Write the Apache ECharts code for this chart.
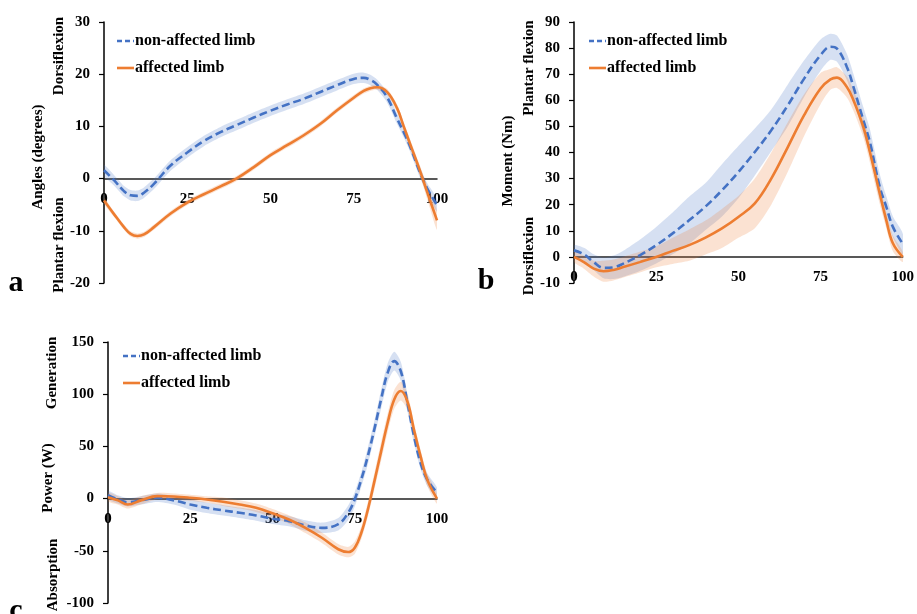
<!DOCTYPE html>
<html>
<head>
<meta charset="utf-8">
<script src="https://cdn.jsdelivr.net/npm/echarts@6/dist/echarts.min.js"></script>
<style>
html,body{margin:0;padding:0;background:#fff;}
#chart{width:917px;height:614px;}
</style>
</head>
<body>
<div id="chart"></div>
<script>
// ---------- Data ----------
const seriesNames = ['non-affected limb', 'affected limb'];

// Panel a: ankle angle (degrees) vs % gait cycle
const pctA = [0, 3, 6, 8, 10, 12, 15, 20, 25, 30, 35, 40, 45, 50, 55, 60, 65, 70, 75, 78, 80, 82, 85, 88, 90, 92, 95, 97, 100];
const angleNonAff = [1.6, -0.3, -2.4, -3.2, -3.3, -2.7, -1.0, 2.5, 5.0, 7.2, 8.9, 10.3, 11.7, 13.0, 14.2, 15.3, 16.6, 17.9, 19.1, 19.3, 18.9, 18.0, 15.6, 11.5, 8.9, 6.0, 1.0, -1.8, -5.1];
const angleAff = [-4.2, -6.8, -9.3, -10.6, -11.0, -10.7, -9.3, -6.7, -4.6, -3.0, -1.5, 0.1, 2.2, 4.5, 6.4, 8.3, 10.5, 13.1, 15.5, 16.8, 17.3, 17.5, 16.6, 13.5, 10.0, 6.5, 1.3, -2.5, -8.0];
const angleNonAffSD = [1.0, 1.0, 1.0, 1.0, 1.0, 1.0, 1.0, 1.0, 1.0, 1.0, 1.0, 1.0, 1.0, 1.0, 1.0, 1.0, 1.0, 1.0, 1.0, 1.0, 1.0, 1.0, 1.0, 1.0, 1.0, 1.0, 1.0, 1.0, 1.2];
const angleAffSD = [0.6, 0.5, 0.5, 0.5, 0.5, 0.5, 0.5, 0.5, 0.5, 0.5, 0.5, 0.5, 0.5, 0.5, 0.5, 0.5, 0.5, 0.5, 0.5, 0.5, 0.5, 0.5, 0.6, 0.7, 0.8, 0.9, 1.0, 1.3, 1.8];

// Panel b: ankle moment (Nm)
const pctB = [0, 3, 6, 9, 12, 15, 20, 25, 30, 35, 40, 45, 50, 55, 60, 65, 70, 75, 78, 80, 83, 85, 88, 90, 93, 95, 97, 100];
const momentNonAff = [2.5, 1.0, -2.0, -4.2, -4.0, -2.6, 0.6, 4.5, 9.0, 14.0, 19.3, 25.5, 32.5, 40.2, 48.5, 58.0, 68.3, 77.3, 80.5, 79.8, 72.8, 65.1, 52.4, 44.0, 26.8, 19.2, 11.5, 5.0];
const momentAff = [0, -2.0, -4.5, -5.5, -5.0, -3.9, -2.0, 0, 2.3, 4.5, 7.4, 10.9, 15.3, 20.5, 30.0, 42.0, 54.3, 64.5, 68.0, 68.7, 65.1, 60.0, 49.8, 40.2, 24.3, 14.0, 5.2, 0];
const momentNonAffSD = [2, 2.5, 3, 4, 4.5, 5, 6, 7, 8, 9, 9, 10, 10, 9, 8, 8, 7, 6, 5, 5, 5, 5, 5, 5, 5, 4, 4, 4];
const momentAffSD = [2, 2.5, 3, 4, 4, 4, 4, 4, 5, 6, 6.5, 7.5, 8, 9.5, 10, 9.5, 8, 6, 4, 4, 4, 4, 4, 4, 4, 3, 3, 2];

// Panel c: ankle power (W)
const pctC = [0, 3, 6, 10, 15, 20, 25, 30, 35, 40, 45, 50, 55, 60, 65, 70, 73, 75, 77, 79, 81, 83, 85, 87, 89, 91, 93, 95, 97, 100];
const powerNonAff = [3.3, -0.8, -3.5, -1.7, 0.8, -1.7, -5.6, -8.8, -11.3, -13.6, -16.1, -19.3, -21.6, -25.7, -28.0, -24.5, -13.6, -0.6, 18.4, 41.0, 67.0, 95.0, 120.5, 131.7, 122.0, 92.0, 59.9, 34.3, 18.4, 5.7];
const powerAff = [1.4, -1.7, -5.6, -1.7, 2.4, 2.0, 0.8, -0.8, -3.0, -5.6, -8.8, -14.0, -20.0, -28.0, -37.5, -48.5, -51.2, -47.0, -32.7, -10.3, 17.0, 45.0, 72.6, 95.0, 103.0, 93.0, 66.0, 40.7, 18.4, 0];
const powerNonAffSD = [4, 4, 4, 4, 4, 4, 5, 5, 5, 5, 5, 5, 5, 5, 5, 6, 7, 7, 7, 8, 8, 9, 9, 9, 9, 8, 7, 6, 6, 5];
const powerAffSD = [4, 4, 4, 4, 3, 3, 3, 3, 4, 4, 4, 4, 4, 5, 5, 5, 5, 6, 6, 7, 8, 9, 9, 9, 9, 8, 7, 6, 6, 5];

// Axis ranges [min, max, interval]
const xRange = [0, 100, 25];
const yRangeA = [-20, 30, 10];
const yRangeB = [-10, 90, 10];
const yRangeC = [-100, 150, 50];

// ---------- Styling ----------
const FONT = '"Liberation Serif", "Times New Roman", serif';
const BLUE = '#4472C4';
const ORANGE = '#ED7D31';
const BLUE_BAND = 'rgba(68,114,196,0.22)';
const ORANGE_BAND = 'rgba(237,125,49,0.22)';
const DASH = [8, 4];

const grids = [
  {left: 104, top: 22, width: 333, height: 261},
  {left: 574, top: 22, width: 331, height: 261},
  {left: 108, top: 342, width: 329, height: 261}
];

function pairs(pct, vals) { return pct.map((p, i) => [p, vals[i]]); }

function bandSeries(gi, pct, mean, sd, color) {
  return {
    type: 'custom', xAxisIndex: gi, yAxisIndex: gi, silent: true, z: 1, clip: true,
    data: pct.map((p, i) => [p, mean[i] - sd[i], mean[i] + sd[i]]),
    encode: {x: 0, y: [1, 2]},
    renderItem: function (params, api) {
      if (params.dataIndex !== 0) return null;
      const up = [], lo = [];
      for (let i = 0; i < pct.length; i++) {
        up.push(api.coord([pct[i], mean[i] + sd[i]]));
        lo.push(api.coord([pct[i], mean[i] - sd[i]]));
      }
      return {
        type: 'polygon',
        shape: {points: up.concat(lo.reverse()), smooth: 0.25},
        style: {fill: color}
      };
    }
  };
}

function lineSeries(gi, pct, mean, name, color, dashed, z) {
  return {
    name: name, type: 'line', xAxisIndex: gi, yAxisIndex: gi,
    data: pairs(pct, mean), smooth: 0.4, symbol: 'none',
    itemStyle: {color: color},
    lineStyle: {color: color, width: 2.6, type: dashed ? DASH : 'solid'},
    z: z
  };
}

function xAxisFor(gi, yr) {
  const h = grids[gi].height;
  return {
    type: 'value', gridIndex: gi, min: xRange[0], max: xRange[1], interval: xRange[2],
    position: 'bottom',
    offset: -((0 - yr[0]) / (yr[1] - yr[0])) * h,
    axisLine: {show: true, onZero: false, lineStyle: {color: '#222', width: 1.5}},
    axisTick: {show: false},
    splitLine: {show: false},
    axisLabel: {margin: 13, color: '#000', fontFamily: FONT, fontWeight: 'bold', fontSize: 15}
  };
}

function yAxisFor(gi, r) {
  return {
    type: 'value', gridIndex: gi, min: r[0], max: r[1], interval: r[2],
    axisLine: {show: true, onZero: false, lineStyle: {color: '#000', width: 1.5}},
    axisTick: {show: true, inside: false, length: 5, lineStyle: {color: '#000', width: 1.2}},
    splitLine: {show: false},
    axisLabel: {margin: 14, color: '#000', fontFamily: FONT, fontWeight: 'bold', fontSize: 15}
  };
}

function legendGroup(x, y1, y2) {
  const t = (ty, text) => ({
    type: 'text', x: x + 18, y: ty, silent: true,
    style: {text: text, fill: '#000', font: 'bold 16px ' + FONT, align: 'left', verticalAlign: 'middle'}
  });
  return [
    {type: 'line', silent: true, shape: {x1: x, y1: y1, x2: x + 17, y2: y1},
     style: {stroke: BLUE, lineWidth: 2.6, lineDash: [5, 3]}},
    t(y1, seriesNames[0]),
    {type: 'line', silent: true, shape: {x1: x, y1: y2, x2: x + 17, y2: y2},
     style: {stroke: ORANGE, lineWidth: 2.6}},
    t(y2, seriesNames[1])
  ];
}

function vText(x, y, text) {
  return {
    type: 'text', x: x, y: y, rotation: Math.PI / 2, silent: true,
    style: {text: text, fill: '#000', font: 'bold 15px ' + FONT, align: 'center', verticalAlign: 'middle'}
  };
}
function letter(x, y, text) {
  return {
    type: 'text', x: x, y: y, silent: true,
    style: {text: text, fill: '#000', font: 'bold 30px ' + FONT, align: 'center', verticalAlign: 'middle'}
  };
}

const series = [
  bandSeries(0, pctA, angleNonAff, angleNonAffSD, BLUE_BAND),
  bandSeries(0, pctA, angleAff, angleAffSD, ORANGE_BAND),
  lineSeries(0, pctA, angleNonAff, seriesNames[0], BLUE, true, 3),
  lineSeries(0, pctA, angleAff, seriesNames[1], ORANGE, false, 4),
  bandSeries(1, pctB, momentNonAff, momentNonAffSD, BLUE_BAND),
  bandSeries(1, pctB, momentAff, momentAffSD, ORANGE_BAND),
  lineSeries(1, pctB, momentNonAff, seriesNames[0], BLUE, true, 3),
  lineSeries(1, pctB, momentAff, seriesNames[1], ORANGE, false, 4),
  bandSeries(2, pctC, powerNonAff, powerNonAffSD, BLUE_BAND),
  bandSeries(2, pctC, powerAff, powerAffSD, ORANGE_BAND),
  lineSeries(2, pctC, powerNonAff, seriesNames[0], BLUE, true, 3),
  lineSeries(2, pctC, powerAff, seriesNames[1], ORANGE, false, 4)
];

const chart = echarts.init(document.getElementById('chart'), null, {renderer: 'canvas'});
chart.setOption({
  animation: false,
  backgroundColor: '#fff',
  grid: grids,
  xAxis: [xAxisFor(0, yRangeA), xAxisFor(1, yRangeB), xAxisFor(2, yRangeC)],
  yAxis: [yAxisFor(0, yRangeA), yAxisFor(1, yRangeB), yAxisFor(2, yRangeC)],
  series: series,
  graphic: [].concat(
    legendGroup(117, 41, 68),
    legendGroup(589, 41, 68),
    legendGroup(123, 356, 383),
    [
      vText(38, 157, 'Angles (degrees)'),
      vText(59, 56, 'Dorsiflexion'),
      vText(59, 245, 'Plantar flexion'),
      letter(16, 283, 'a'),
      vText(508, 161, 'Moment (Nm)'),
      vText(529, 68, 'Plantar flexion'),
      vText(529, 256, 'Dorsiflexion'),
      letter(486, 281, 'b'),
      vText(48, 478, 'Power (W)'),
      vText(52, 373, 'Generation'),
      vText(53, 575, 'Absorption'),
      letter(16, 611, 'c')
    ]
  )
});
</script>
</body>
</html>
